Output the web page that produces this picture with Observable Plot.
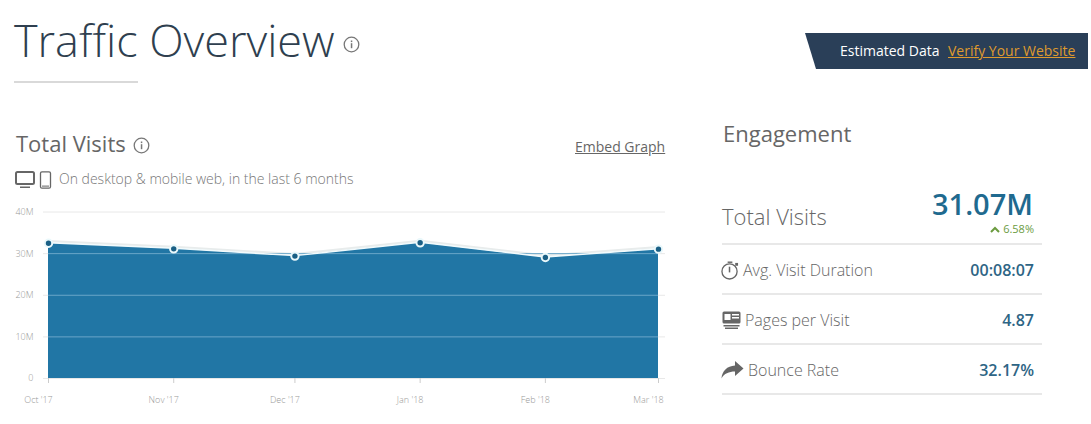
<!DOCTYPE html>
<html><head><meta charset="utf-8">
<script src="https://cdn.jsdelivr.net/npm/d3@7"></script>
<script src="https://cdn.jsdelivr.net/npm/@observablehq/plot@0.6"></script>
<style>
html,body{margin:0;padding:0;background:#fff;overflow:hidden}
body{width:1091px;height:424px;position:relative;font-family:"Open Sans",sans-serif}
.t{position:absolute;white-space:nowrap}
.r{text-align:right}
.sep{position:absolute;left:722px;width:320px;height:2px;background:#e8e8e8}
svg.ic{position:absolute;overflow:visible}
#chart{position:absolute;left:0;top:195px}
</style></head><body>
<div class="t" style="left:14px;top:11px;font-size:45px;line-height:58px;font-weight:300;color:#2f3f4f">Traffic Overview</div>
<svg class="ic" style="left:343px;top:36px" width="17" height="17" viewBox="0 0 17 17"><circle cx="8.5" cy="8.5" r="7.3" fill="none" stroke="#777" stroke-width="1.3"/><rect x="7.8" y="7.2" width="1.5" height="5" fill="#777"/><rect x="7.8" y="4.5" width="1.5" height="1.6" fill="#777"/></svg>
<div style="position:absolute;left:14px;top:81px;width:124px;height:2px;background:#d9d9d9"></div>

<div class="t" style="left:16px;top:128px;font-size:22px;line-height:30px;color:#666">Total Visits</div>
<svg class="ic" style="left:133px;top:137px" width="17" height="17" viewBox="0 0 17 17"><circle cx="8.5" cy="8.5" r="7.3" fill="none" stroke="#777" stroke-width="1.3"/><rect x="7.8" y="7.2" width="1.5" height="5" fill="#777"/><rect x="7.8" y="4.5" width="1.5" height="1.6" fill="#777"/></svg>
<div class="t" style="left:575px;top:137px;font-size:14px;line-height:20px;color:#666;text-decoration:underline">Embed Graph</div>
<svg class="ic" style="left:15px;top:171px" width="38" height="18" viewBox="0 0 38 18"><rect x="1" y="1" width="18" height="12" rx="1.5" fill="none" stroke="#666" stroke-width="2"/><rect x="5" y="15.5" width="10" height="1.5" fill="#666"/><rect x="25.5" y="0.8" width="10" height="16.4" rx="1.5" fill="none" stroke="#666" stroke-width="1.3"/><rect x="27" y="14.6" width="7" height="1" fill="#666"/></svg>
<div class="t" style="left:59px;top:169px;font-size:14px;line-height:20px;font-weight:300;color:#777">On desktop &amp; mobile web, in the last 6 months</div>

<svg class="ic" style="left:805px;top:33px" width="284" height="38" viewBox="0 0 284 38"><polygon points="0,0 283,0 283,36 11,36" fill="#2a3f58"/></svg>
<div class="t" style="left:840px;top:41px;font-size:14px;line-height:20px;color:#fff">Estimated Data</div>
<div class="t" style="left:948px;top:41px;font-size:14px;line-height:20px;color:#df9a2e;text-decoration:underline">Verify Your Website</div>

<div class="t" style="left:723px;top:118px;font-size:22px;line-height:30px;color:#666">Engagement</div>
<div class="t" style="left:722px;top:201px;font-size:22px;line-height:30px;font-weight:300;color:#666" id="lab0"></div>
<div class="t r" style="right:58px;top:189px;font-size:29px;line-height:30px;font-weight:600;color:#1f6a8f" id="val0"></div>
<svg class="ic" style="left:990px;top:226px" width="10" height="7" viewBox="0 0 10 7"><path d="M1 6 L5 2 L9 6" fill="none" stroke="#6b9b3f" stroke-width="2"/></svg>
<div class="t r" style="right:57px;top:222px;font-size:11px;line-height:14px;color:#6b9b3f" id="chg"></div>

<svg class="ic" style="left:721px;top:261px" width="18" height="19" viewBox="0 0 19 20"><circle cx="9" cy="11" r="8" fill="none" stroke="#666" stroke-width="1.4"/><rect x="7" y="0.5" width="5" height="1.5" fill="#666"/><path d="M9 6 L9 12" stroke="#666" stroke-width="1.6"/><rect x="15" y="2" width="3" height="3" fill="#666"/></svg>
<svg class="ic" style="left:722px;top:311px" width="19" height="18" viewBox="0 0 19 18"><rect x="0.5" y="0.5" width="18" height="12" rx="1.5" fill="#666"/><rect x="2.5" y="3" width="6" height="6" fill="#fff"/><rect x="10" y="3" width="7" height="1.5" fill="#fff"/><rect x="10" y="6" width="7" height="1.5" fill="#fff"/><rect x="1.5" y="14" width="16" height="1.5" fill="#666"/><rect x="3" y="16.5" width="13" height="1.5" fill="#666"/></svg>
<svg class="ic" style="left:721px;top:361px" width="23" height="18" viewBox="0 0 23 18"><path d="M14 0 L22.5 7.5 L14 15 L14 10.5 C8 10.5 3 12.5 0.5 17.5 C1 10 6 5 14 4.5 Z" fill="#666"/></svg>
<div id="rows"></div>
<div class="sep" style="top:243px"></div>
<div class="sep" style="top:293px"></div>
<div class="sep" style="top:343px"></div>
<div class="sep" style="top:393px"></div>
<div id="chart"></div>
<script>
const months = ["2017-10-01","2017-11-01","2017-12-01","2018-01-01","2018-02-01","2018-03-01"];
const monthLabels = ["Oct '17","Nov '17","Dec '17","Jan '18","Feb '18","Mar '18"];
const visits = [32.5,31.15,29.4,32.6,29.07,31.07];
const yTicks = [0,10,20,30,40];
const yLabels = ["0","10M","20M","30M","40M"];
const metricLabels = ["Total Visits","Avg. Visit Duration","Pages per Visit","Bounce Rate"];
const metricValues = ["31.07M","00:08:07","4.87","32.17%"];
const metricChange = "6.58%";

const dates = months.map(d => new Date(d + "T00:00:00Z"));
const data = dates.map((date,i) => ({date, v: visits[i]}));

document.getElementById("lab0").textContent = metricLabels[0];
document.getElementById("val0").textContent = metricValues[0];
document.getElementById("chg").textContent = metricChange;
const rowLeft = [743,745,748];
const rowTop = [260,310,360];
document.getElementById("rows").innerHTML = [1,2,3].map(i =>
  `<div class="t" style="left:${rowLeft[i-1]}px;top:${rowTop[i-1]}px;font-size:16px;line-height:20px;font-weight:300;color:#666">${metricLabels[i]}</div>` +
  `<div class="t r" style="right:57px;top:${rowTop[i-1]}px;font-size:16px;line-height:20px;font-weight:600;color:#2e6585">${metricValues[i]}</div>`
).join("");

const axisFont = {color:"#999", fontSize:9, fontWeight:300};
const plot = Plot.plot({
  width: 680, height: 215,
  marginLeft: 48, marginRight: 22, marginTop: 16.5, marginBottom: 32,
  style: {background:"transparent", fontFamily:'"Open Sans",sans-serif'},
  x: {type:"utc", domain:[dates[0], dates[dates.length-1]]},
  y: {domain:[0,40]},
  marks: [
    Plot.ruleY(yTicks, {stroke:"#e8e8e8", strokeWidth:1, insetLeft:-5, insetRight:-7}),
    Plot.lineY(data, {x:"date", y:"v", stroke:"#e8ecec", strokeWidth:2.2, dy:-2}),
    Plot.areaY(data, {x:"date", y:"v", fill:"#2176a5"}),
    Plot.ruleY(yTicks.filter(t => t > 0 && t < 40), {stroke:"#6aa6c8", strokeWidth:1, x1:dates[0], x2:dates[dates.length-1]}),
    Plot.lineY(data, {x:"date", y:"v", stroke:"#f2fbfd", strokeWidth:1.5, dy:-0.5}),
    Plot.dot(data, {x:"date", y:"v", r:3.7, fill:"#1a5f85", stroke:"#eaf8fb", strokeWidth:2}),
    Plot.axisX({ticks:dates, tickSize:5, tickFormat:()=>"", stroke:"#ccc", anchor:"bottom", label:null}),
    Plot.axisX({ticks:dates, tickSize:0, tickFormat:(d)=>monthLabels[dates.findIndex(x=>+x===+d)], ...axisFont, tickPadding:18, dx:-10, anchor:"bottom", label:null}),
    Plot.axisY({ticks:yTicks, tickSize:0, tickFormat:(d)=>yLabels[yTicks.indexOf(d)], ...axisFont, tickPadding:15, label:null})
  ]
});
document.getElementById("chart").appendChild(plot);
</script>
</body></html>
